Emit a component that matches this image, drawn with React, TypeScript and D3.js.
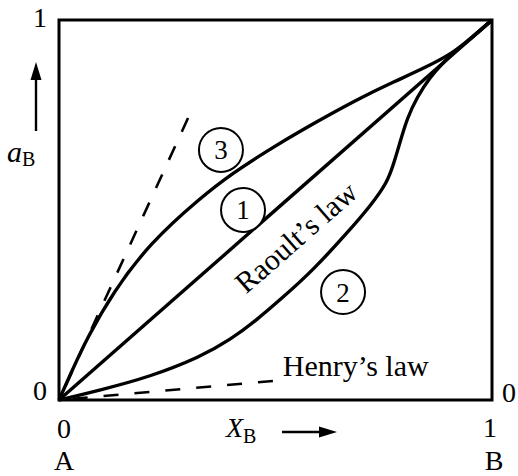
import React from "react";
import * as d3 from "d3";

const W = 518;
const H = 476;
const plot = { left: 59, right: 492, top: 20, bottom: 400 };

// Activity of B against mole fraction of B
const idealX = [0, 1];
const idealA = [0, 1];

const positiveX = [0, 0.032, 0.065, 0.125, 0.21, 0.326, 0.402, 0.48, 0.557, 0.695, 0.771, 0.85, 0.91, 0.955, 1];
const positiveA = [0, 0.082, 0.163, 0.284, 0.413, 0.532, 0.598, 0.655, 0.708, 0.795, 0.836, 0.877, 0.913, 0.955, 1];

const negativeX = [0, 0.095, 0.21, 0.326, 0.395, 0.457, 0.515, 0.587, 0.665, 0.723, 0.758, 0.772, 0.786, 0.804, 0.827, 0.857, 0.887, 0.91, 0.955, 1];
const negativeA = [0, 0.026, 0.061, 0.113, 0.158, 0.211, 0.268, 0.342, 0.439, 0.516, 0.573, 0.618, 0.672, 0.742, 0.797, 0.85, 0.887, 0.913, 0.955, 1];

// Henry's law tangents at infinite dilution (drawn from the far end toward the origin)
const henryPosX = [0.298, 0];
const henryPosA = [0.742, 0];
const henryNegX = [0.494, 0];
const henryNegA = [0.05, 0];

const tickLabels = ["0", "1"];
const componentLabels = ["A", "B"];

const curveTags = [
  { id: "3", x: 0.374, a: 0.658 },
  { id: "1", x: 0.425, a: 0.5 },
  { id: "2", x: 0.656, a: 0.284 },
];

const FONT = "'Liberation Serif', 'Times New Roman', serif";

export default function App() {
  const x = d3.scaleLinear().domain([0, 1]).range([plot.left, plot.right]);
  const y = d3.scaleLinear().domain([0, 1]).range([plot.bottom, plot.top]);

  const smooth = d3
    .line<[number, number]>()
    .x((d) => x(d[0]))
    .y((d) => y(d[1]))
    .curve(d3.curveBasis);
  const straight = d3
    .line<[number, number]>()
    .x((d) => x(d[0]))
    .y((d) => y(d[1]));

  const zip = (xs: number[], as: number[]) => xs.map((v, i) => [v, as[i]] as [number, number]);

  const raoultAngle = (-Math.atan2(y(0) - y(1), x(1) - x(0)) * 180) / Math.PI;
  const raoultPos = { x: x(0.547), y: y(0.429) };

  const fs = 28;
  const lawFs = 30;

  return (
    <svg width={W} height={H} style={{ display: "block", position: "absolute", left: 0, top: 0 }}>
      <rect width={W} height={H} fill="#fff" />
      {/* frame */}
      <rect
        x={x(0)}
        y={y(1)}
        width={x(1) - x(0)}
        height={y(0) - y(1)}
        fill="none"
        stroke="#000"
        strokeWidth={3}
      />
      {/* Henry's law tangents */}
      <path d={straight(zip(henryPosX, henryPosA)) ?? ""} fill="none" stroke="#000" strokeWidth={2.6} strokeDasharray="15 16" />
      <path d={straight(zip(henryNegX, henryNegA)) ?? ""} fill="none" stroke="#000" strokeWidth={2.6} strokeDasharray="15 16" />
      {/* curves */}
      <path d={straight(zip(idealX, idealA)) ?? ""} fill="none" stroke="#000" strokeWidth={3.4} />
      <path d={smooth(zip(positiveX, positiveA)) ?? ""} fill="none" stroke="#000" strokeWidth={3.4} />
      <path d={smooth(zip(negativeX, negativeA)) ?? ""} fill="none" stroke="#000" strokeWidth={3.4} />

      {/* curve tags */}
      {curveTags.map((t) => (
        <g key={t.id} transform={`translate(${x(t.x)},${y(t.a)})`}>
          <circle r={22} fill="#fff" stroke="#000" strokeWidth={2} />
          <text textAnchor="middle" dy="0.35em" fontFamily={FONT} fontSize={27}>
            {t.id}
          </text>
        </g>
      ))}

      <text
        transform={`translate(${raoultPos.x},${raoultPos.y}) rotate(${raoultAngle})`}
        textAnchor="middle"
        dy="0.35em"
        fontFamily={FONT}
        fontSize={lawFs}
      >
        Raoult’s law
      </text>
      <text x={x(0.517)} y={y(0.063)} fontFamily={FONT} fontSize={lawFs}>
        Henry’s law
      </text>

      {/* vertical axis labels */}
      <text x={x(0) - 19} y={y(1) + 7} textAnchor="middle" fontFamily={FONT} fontSize={fs}>
        {tickLabels[1]}
      </text>
      <text x={x(0) - 19} y={y(0)} textAnchor="middle" fontFamily={FONT} fontSize={fs}>
        {tickLabels[0]}
      </text>
      <text x={x(1) + 17} y={y(0) + 2} textAnchor="middle" fontFamily={FONT} fontSize={fs}>
        {tickLabels[0]}
      </text>

      {/* horizontal axis labels */}
      <text x={x(0) + 5} y={y(0) + 38} textAnchor="middle" fontFamily={FONT} fontSize={fs}>
        {tickLabels[0]}
      </text>
      <text x={x(1) - 2} y={y(0) + 37} textAnchor="middle" fontFamily={FONT} fontSize={fs}>
        {tickLabels[1]}
      </text>
      <text x={x(0) + 5} y={y(0) + 70} textAnchor="middle" fontFamily={FONT} fontSize={fs}>
        {componentLabels[0]}
      </text>
      <text x={x(1) + 2} y={y(0) + 70} textAnchor="middle" fontFamily={FONT} fontSize={fs}>
        {componentLabels[1]}
      </text>

      {/* X_B with arrow */}
      <text x={226} y={y(0) + 37} fontFamily={FONT} fontSize={fs}>
        <tspan fontStyle="italic">X</tspan>
        <tspan fontSize={20} dy={6}>B</tspan>
      </text>
      <line x1={282} y1={432} x2={322} y2={432} stroke="#000" strokeWidth={2.4} />
      <path d="M337,432 L319,426.5 L319,437.5 Z" fill="#000" />

      {/* a_B with arrow */}
      <text x={7} y={162} fontFamily={FONT} fontSize={30}>
        <tspan fontStyle="italic">a</tspan>
        <tspan fontSize={20} dy={4}>B</tspan>
      </text>
      <line x1={36} y1={131} x2={36} y2={76} stroke="#000" strokeWidth={2.4} />
      <path d="M36,62 L30.5,80 L41.5,80 Z" fill="#000" />
    </svg>
  );
}
